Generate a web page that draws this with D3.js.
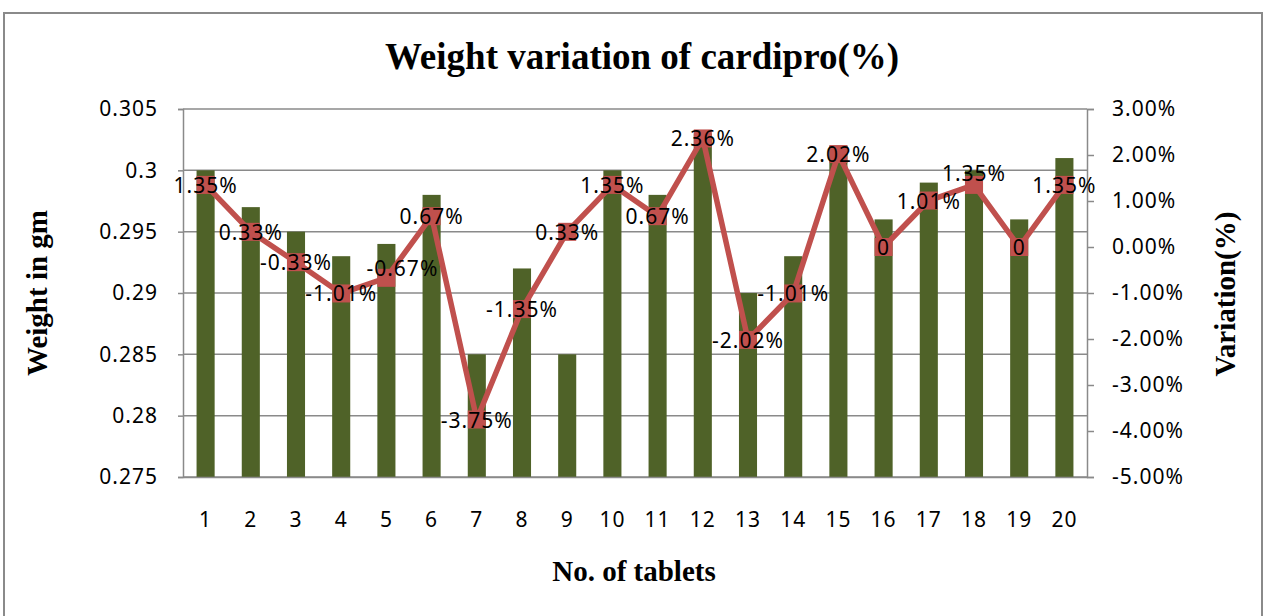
<!DOCTYPE html>
<html>
<head>
<meta charset="utf-8">
<script src="https://cdn.jsdelivr.net/npm/d3@7"></script>
<style>
  html, body { margin: 0; padding: 0; background: #fff; }
  svg { display: block; }
</style>
</head>
<body>
<svg id="chart" width="1265" height="616"></svg>
<script>
// ---- Data ----
const tablets = [1,2,3,4,5,6,7,8,9,10,11,12,13,14,15,16,17,18,19,20];
const weights = [0.300,0.297,0.295,0.293,0.294,0.298,0.285,0.292,0.285,0.300,
                 0.298,0.303,0.290,0.293,0.302,0.296,0.299,0.300,0.296,0.301];
const variation = [1.35,0.33,-0.33,-1.01,-0.67,0.67,-3.75,-1.35,0.33,1.35,
                   0.67,2.36,-2.02,-1.01,2.02,0,1.01,1.35,0,1.35];
const leftTicks = [0.275,0.28,0.285,0.29,0.295,0.3,0.305];
const rightTicks = [-5,-4,-3,-2,-1,0,1,2,3];
const titleText = "Weight variation of cardipro(%)";
const xTitle = "No. of tablets";
const yLeftTitle = "Weight in gm";
const yRightTitle = "Variation(%)";

// ---- Layout / style ----
const svg = d3.select("#chart");
const plot = { left: 183, right: 1087, top: 109, bottom: 477 };
const barColor = "#4F6228";
const lineColor = "#C0504D";
const gridColor = "#8a8a8a";
const tickFont = "'Noto Sans', 'Open Sans', sans-serif";
const titleFont = "'Liberation Serif', 'Times New Roman', serif";
const labelNudge = { 4: [16, -10], 17: [0, -12] }; // index -> [dx, dy]

// frame
svg.append("rect").attr("x", 4).attr("y", 13).attr("width", 1258).attr("height", 640)
  .attr("fill", "none").attr("stroke", "#8a8a8a").attr("stroke-width", 2);

const x = d3.scaleBand().domain(tablets).range([plot.left, plot.right]).paddingInner(0.6).paddingOuter(0.3);
const yL = d3.scaleLinear().domain([0.275, 0.305]).range([plot.bottom, plot.top]);
const yR = d3.scaleLinear().domain([-5, 3]).range([plot.bottom, plot.top]);

// gridlines
svg.append("g").selectAll("line").data(leftTicks).join("line")
  .attr("x1", plot.left).attr("x2", plot.right)
  .attr("y1", d => yL(d)).attr("y2", d => yL(d))
  .attr("stroke", gridColor).attr("stroke-width", 1.5);

// bars
svg.append("g").selectAll("rect").data(tablets).join("rect")
  .attr("x", (d) => x(d))
  .attr("width", x.bandwidth())
  .attr("y", (d, i) => yL(weights[i]))
  .attr("height", (d, i) => yL(0.275) - yL(weights[i]))
  .attr("fill", barColor);

// axes
const leftAxis = d3.axisLeft(yL).tickValues(leftTicks).tickSize(5).tickPadding(20)
  .tickFormat(d => String(+d.toFixed(3)));
const gL = svg.append("g").attr("transform", `translate(${plot.left},0)`).call(leftAxis);
const rightAxis = d3.axisRight(yR).tickValues(rightTicks).tickSize(7).tickPadding(18)
  .tickFormat(d => d.toFixed(2) + "%");
const gR = svg.append("g").attr("transform", `translate(${plot.right},0)`).call(rightAxis);
const bottomAxis = d3.axisBottom(x).tickSize(0).tickPadding(35);
const gB = svg.append("g").attr("transform", `translate(0,${plot.bottom})`).call(bottomAxis);

[gL, gR, gB].forEach(g => {
  g.selectAll(".domain").attr("stroke", gridColor).attr("stroke-width", 1.5);
  g.selectAll(".tick line").attr("stroke", gridColor).attr("stroke-width", 1.5);
  g.selectAll("text").attr("font-family", tickFont).attr("font-size", 21)
    .attr("letter-spacing", "1px").attr("fill", "#000");
});

// line
const cx = (i) => x(tablets[i]) + x.bandwidth() / 2;
const line = d3.line().x((d, i) => cx(i)).y(d => yR(d));
svg.append("path").datum(variation).attr("d", line)
  .attr("fill", "none").attr("stroke", lineColor).attr("stroke-width", 5.5)
  .attr("stroke-linejoin", "round");

// markers
const ms = 18;
svg.append("g").selectAll("rect").data(variation).join("rect")
  .attr("x", (d, i) => cx(i) - ms / 2)
  .attr("y", d => yR(d) - ms / 2)
  .attr("width", ms).attr("height", ms)
  .attr("fill", lineColor);

// data labels
svg.append("g").selectAll("text").data(variation).join("text")
  .attr("x", (d, i) => cx(i) + (labelNudge[i] ? labelNudge[i][0] : 0))
  .attr("y", (d, i) => yR(d) + (labelNudge[i] ? labelNudge[i][1] : 0))
  .attr("text-anchor", "middle").attr("dominant-baseline", "central")
  .attr("font-family", tickFont).attr("font-size", 21).attr("letter-spacing", "1px")
  .attr("fill", "#000")
  .text(d => d === 0 ? "0" : d.toFixed(2) + "%");

// titles
svg.append("text").attr("x", 642).attr("y", 69).attr("text-anchor", "middle")
  .attr("font-family", titleFont).attr("font-weight", "bold").attr("font-size", 37)
  .text(titleText);
svg.append("text").attr("x", 634).attr("y", 581).attr("text-anchor", "middle")
  .attr("font-family", titleFont).attr("font-weight", "bold").attr("font-size", 29)
  .text(xTitle);
svg.append("text").attr("transform", "translate(47,293) rotate(-90)").attr("text-anchor", "middle")
  .attr("font-family", titleFont).attr("font-weight", "bold").attr("font-size", 29)
  .text(yLeftTitle);
svg.append("text").attr("transform", "translate(1235,294) rotate(-90)").attr("text-anchor", "middle")
  .attr("font-family", titleFont).attr("font-weight", "bold").attr("font-size", 29)
  .text(yRightTitle);
</script>
</body>
</html>
